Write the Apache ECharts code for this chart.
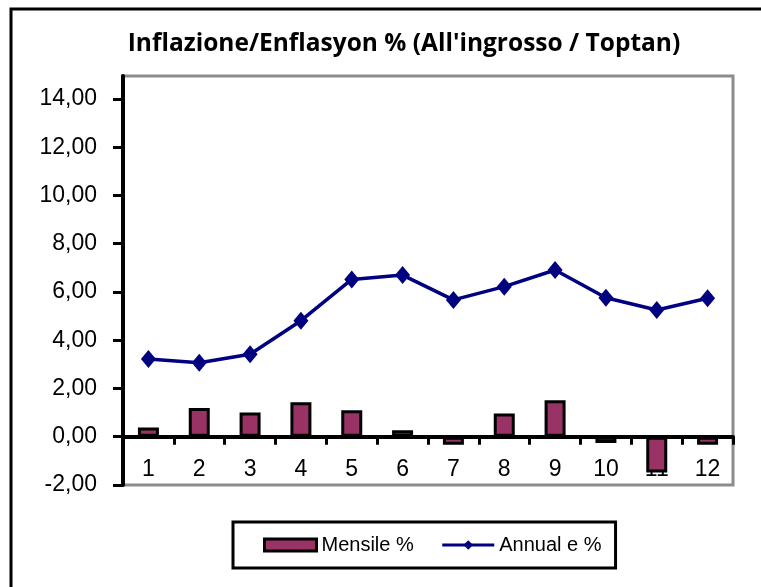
<!DOCTYPE html>
<html>
<head>
<meta charset="utf-8">
<script src="https://cdn.jsdelivr.net/npm/echarts@6/dist/echarts.min.js"></script>
<style>
html,body{margin:0;padding:0;background:#fff;}
#c{width:761px;height:587px;}
</style>
</head>
<body>
<div id="c"></div>
<script>
var titleText = "Inflazione/Enflasyon % (All'ingrosso / Toptan)";
var categories = ['1','2','3','4','5','6','7','8','9','10','11','12'];
var mensile = [0.38, 1.19, 1.00, 1.43, 1.10, 0.27, -0.33, 0.96, 1.51, -0.26, -1.48, -0.33];
var annuale = [3.22, 3.07, 3.42, 4.81, 6.52, 6.70, 5.67, 6.22, 6.91, 5.76, 5.25, 5.74];
var seriesNames = ['Mensile %', 'Annual e %'];
var yTicks = [-2, 0, 2, 4, 6, 8, 10, 12, 14];

var chart = echarts.init(document.getElementById('c'), null, {renderer: 'canvas'});
var font = 'Liberation Sans, Arial, sans-serif';
chart.setOption({
  animation: false,
  backgroundColor: '#fff',
  graphic: [{
    type: 'rect', silent: true, z: -1,
    shape: {x: 11, y: 9, width: 800, height: 640},
    style: {fill: 'none', stroke: '#000', lineWidth: 3}
  }],
  title: {
    text: titleText,
    left: 404, top: 32, padding: 0,
    textAlign: 'center',
    textStyle: {fontFamily: 'Open Sans, Liberation Sans, sans-serif', fontWeight: 'bold', fontSize: 24.5, color: '#000'}
  },
  grid: {
    left: 123, right: 28, top: 76, bottom: 102,
    show: true, borderColor: '#8c8c8c', borderWidth: 3, backgroundColor: 'transparent'
  },
  legend: {
    left: 233, top: 522,
    padding: [13, 14, 13, 30],
    borderColor: '#000', borderWidth: 3,
    itemGap: 27, itemWidth: 52, itemHeight: 12,
    textStyle: {fontFamily: font, fontSize: 20, color: '#000'},
    data: [
      {name: seriesNames[0], icon: 'rect', itemStyle: {color: '#993366', borderColor: '#000', borderWidth: 3}},
      {name: seriesNames[1], lineStyle: {width: 3, color: '#000080'}}
    ]
  },
  xAxis: {
    type: 'category',
    data: categories,
    boundaryGap: true,
    axisLine: {onZero: true, lineStyle: {color: '#000', width: 4}},
    axisTick: {show: true, length: 8, lineStyle: {color: '#000', width: 3}},
    axisLabel: {margin: -27, fontFamily: font, fontSize: 23, color: '#000'},
    splitLine: {show: false}
  },
  yAxis: {
    type: 'value',
    min: -2, max: 14.95,
    axisLine: {show: true, lineStyle: {color: '#000', width: 4}},
    axisTick: {show: true, length: 10, customValues: yTicks, lineStyle: {color: '#000', width: 3}},
    axisLabel: {
      margin: 26, fontFamily: font, fontSize: 23, color: '#000',
      customValues: yTicks,
      formatter: function (v) { return v.toFixed(2).replace('.', ','); }
    },
    splitLine: {show: false}
  },
  series: [
    {
      name: seriesNames[0], type: 'bar', data: mensile, barWidth: 21,
      itemStyle: {color: '#993366', borderColor: '#000', borderWidth: 3}
    },
    {
      name: seriesNames[1], type: 'line', data: annuale,
      symbol: 'diamond', symbolSize: [15, 18],
      lineStyle: {color: '#000080', width: 3.5},
      itemStyle: {color: '#000080'}
    }
  ]
});
</script>
</body>
</html>
